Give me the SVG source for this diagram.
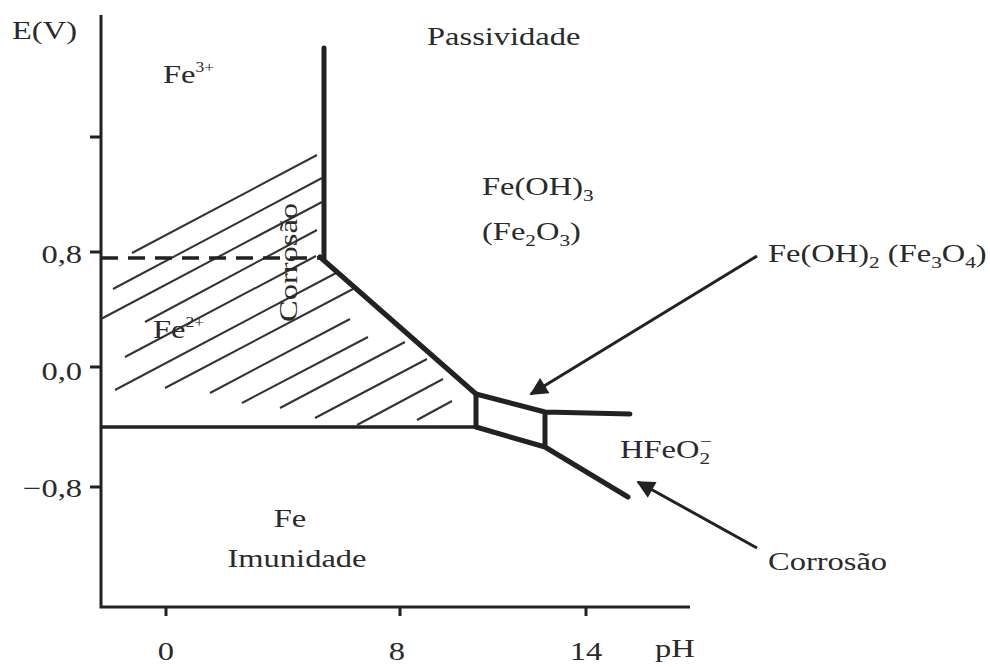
<svg xmlns="http://www.w3.org/2000/svg" width="990" height="667" viewBox="0 0 990 667">
<defs>
<style>
.t{font-family:"Liberation Serif","Times New Roman",serif;font-size:26px;fill:#2a2a2a}
.ax{stroke:#222;stroke-width:3;fill:none}
.tk{stroke:#222;stroke-width:3}
.th{stroke:#222;stroke-width:5;fill:none;stroke-linejoin:round;stroke-linecap:round}
.md{stroke:#222;stroke-width:3.5;fill:none}
.h{stroke:#333;stroke-width:2;fill:none}
.ar{stroke:#222;stroke-width:3;fill:none}
</style>
<marker id="ah" viewBox="0 0 10 10" refX="9" refY="5" markerWidth="8" markerHeight="6" markerUnits="strokeWidth" orient="auto">
<path d="M0,0 L10,5 L0,10 Z" fill="#222"/>
</marker>
</defs>
<rect width="990" height="667" fill="#fff"/>
<g id="axes">
<path class="ax" d="M101,15 V607 H690"/>
<path class="tk" d="M90,137 H101 M90,252 H101 M90,367 H101 M90,487 H101 M166,607 V616 M400,607 V616 M586,607 V616"/>
</g>
<g id="hatch">
<path class="h" d="M132,253 L317,155 M113,289 L322,178 M101,319 L322,202 M145,322 L317,230 M125,357 L316,256 M115,390 L338,272 M165,388 L353,289 M210,393 L350,319 M242,403 L368,337 M280,408 L405,342 M315,418 L427,359 M357,425 L443,379 M417,420 L452,401"/>
</g>
<g id="boundaries">
<path class="th" d="M324,48 V258"/>
<path d="M101,258 H320" stroke="#222" stroke-width="3.5" stroke-dasharray="17,10"/>
<path class="th" d="M320,257 L476,394"/>
<path class="md" d="M101,427 H476"/>
<path class="th" d="M476,394 L545,412 L630,414 M476,394 V427 L545,447 L628,497 M545,412 V447"/>
</g>
<g id="connectors">
<path class="ar" d="M757,256 L531,394" marker-end="url(#ah)"/>
<path class="ar" d="M757,548 L638,482" marker-end="url(#ah)"/>
</g>
<g id="labels">
<text class="t" transform="translate(12,39) scale(1.25,1)">E(V)</text>
<text class="t" transform="translate(427,45) scale(1.25,1)">Passividade</text>
<text class="t" transform="translate(163,83) scale(1.25,1)">Fe<tspan font-size="14" dy="-11">3+</tspan></text>
<text class="t" transform="translate(153,338) scale(1.25,1)">Fe<tspan font-size="14" dy="-11">2+</tspan></text>
<text class="t" transform="translate(297,322) rotate(-90) scale(1.25,1)">Corrosão</text>
<text class="t" transform="translate(482,195) scale(1.25,1)">Fe(OH)<tspan font-size="17" dy="6">3</tspan></text>
<text class="t" transform="translate(482,240) scale(1.25,1)">(Fe<tspan font-size="17" dy="6">2</tspan><tspan dy="-6">O</tspan><tspan font-size="17" dy="6">3</tspan><tspan dy="-6">)</tspan></text>
<text class="t" transform="translate(768,262) scale(1.25,1)">Fe(OH)<tspan font-size="17" dy="6">2</tspan><tspan dy="-6"> (Fe</tspan><tspan font-size="17" dy="6">3</tspan><tspan dy="-6">O</tspan><tspan font-size="17" dy="6">4</tspan><tspan dy="-6">)</tspan></text>
<text class="t" transform="translate(620,458) scale(1.25,1)">HFeO<tspan font-size="17" dy="6">2</tspan><tspan font-size="17" dx="-8" dy="-17">−</tspan></text>
<text class="t" transform="translate(768,570) scale(1.25,1)">Corrosão</text>
<text class="t" transform="translate(290,527) scale(1.25,1)" text-anchor="middle">Fe</text>
<text class="t" transform="translate(297,567) scale(1.25,1)" text-anchor="middle">Imunidade</text>
<text class="t" transform="translate(82,263) scale(1.25,1)" text-anchor="end">0,8</text>
<text class="t" transform="translate(82,380) scale(1.25,1)" text-anchor="end">0,0</text>
<text class="t" transform="translate(82,497) scale(1.25,1)" text-anchor="end">−0,8</text>
<text class="t" transform="translate(166,660) scale(1.25,1)" text-anchor="middle">0</text>
<text class="t" transform="translate(397,660) scale(1.25,1)" text-anchor="middle">8</text>
<text class="t" transform="translate(586,660) scale(1.25,1)" text-anchor="middle">14</text>
<text class="t" transform="translate(655,657) scale(1.25,1)">pH</text>
</g>
</svg>
